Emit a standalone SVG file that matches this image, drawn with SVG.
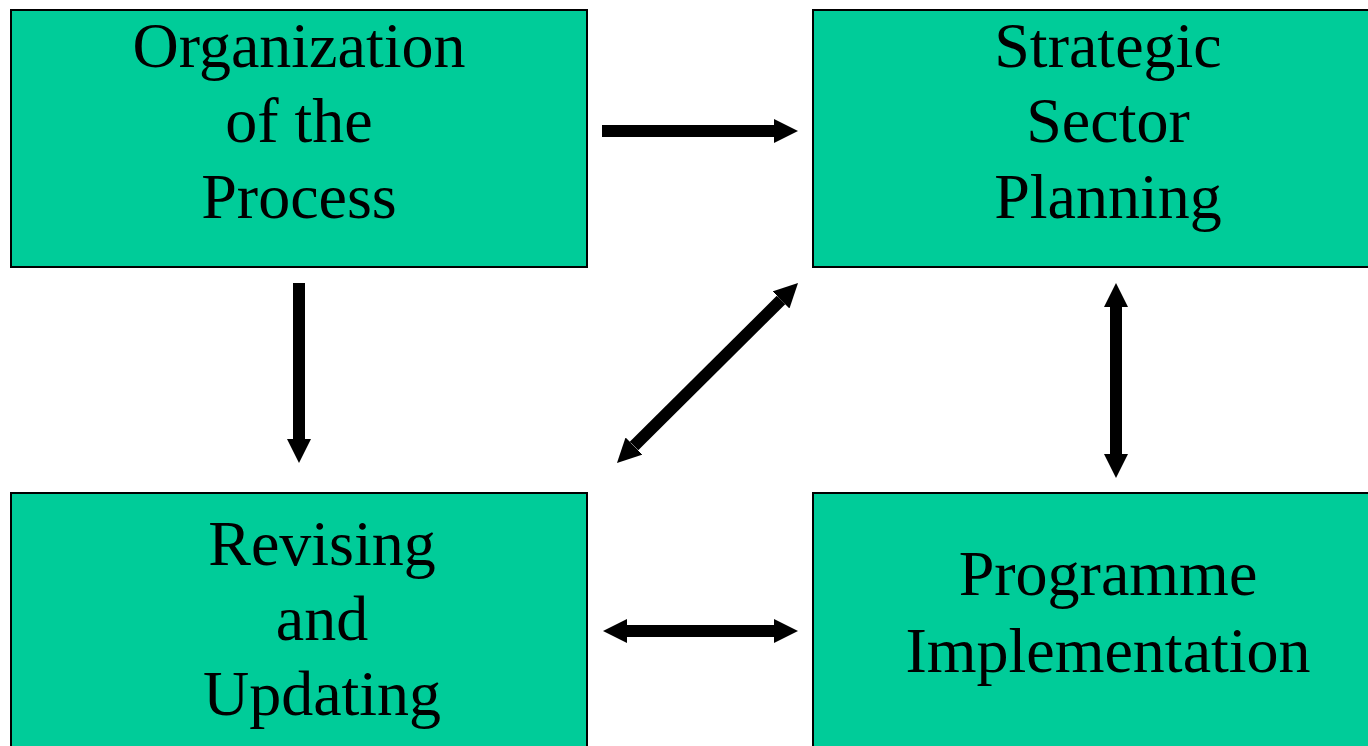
<svg xmlns="http://www.w3.org/2000/svg" width="1368" height="746" viewBox="0 0 1368 746">
  <style>
    .box { fill: #00CC99; stroke: #000000; stroke-width: 2; }
    .lbl { font-family: "Liberation Serif", "Times New Roman", serif; font-size: 64px; fill: #000000; text-anchor: middle; }
    .conn { stroke: #000000; stroke-width: 12; fill: none; stroke-linecap: butt; }
  </style>
  <defs>
    <marker id="head" viewBox="0 0 2 2" markerWidth="2" markerHeight="2" refX="0" refY="1" orient="auto-start-reverse" markerUnits="strokeWidth">
      <path d="M0,0 L2,1 L0,2 z" fill="#000000"/>
    </marker>
  </defs>
  <rect x="0" y="0" width="1368" height="746" fill="#FFFFFF"/>

  <g id="node-organization">
    <rect class="box" x="11" y="10" width="576" height="257"/>
    <text class="lbl" x="299" y="67">Organization</text>
    <text class="lbl" x="299" y="142">of the</text>
    <text class="lbl" x="299" y="218">Process</text>
  </g>

  <g id="node-strategic">
    <rect class="box" x="813" y="10" width="600" height="257"/>
    <text class="lbl" x="1108" y="67">Strategic</text>
    <text class="lbl" x="1108" y="142">Sector</text>
    <text class="lbl" x="1108" y="218">Planning</text>
  </g>

  <g id="node-revising">
    <rect class="box" x="11" y="493" width="576" height="270"/>
    <text class="lbl" x="322" y="565">Revising</text>
    <text class="lbl" x="322" y="640">and</text>
    <text class="lbl" x="322" y="715">Updating</text>
  </g>

  <g id="node-programme">
    <rect class="box" x="813" y="493" width="600" height="270"/>
    <text class="lbl" x="1108" y="595">Programme</text>
    <text class="lbl" x="1108" y="672">Implementation</text>
  </g>

  <g id="connectors">
    <line class="conn" x1="602" y1="131" x2="774" y2="131" marker-end="url(#head)"/>
    <line class="conn" x1="299" y1="283" x2="299" y2="439" marker-end="url(#head)"/>
    <line class="conn" x1="634" y1="446" x2="781" y2="300" marker-start="url(#head)" marker-end="url(#head)"/>
    <line class="conn" x1="1116" y1="307" x2="1116" y2="454" marker-start="url(#head)" marker-end="url(#head)"/>
    <line class="conn" x1="627" y1="631" x2="774" y2="631" marker-start="url(#head)" marker-end="url(#head)"/>
  </g>
</svg>
